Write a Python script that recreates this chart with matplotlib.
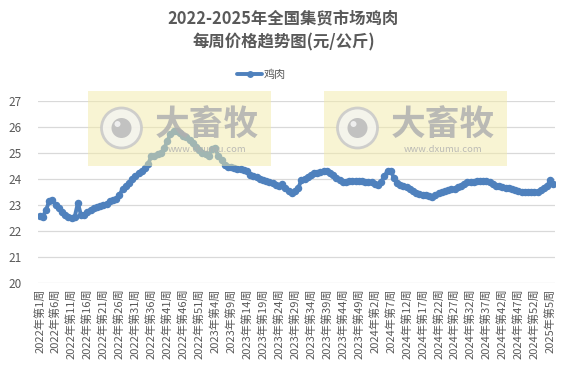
import matplotlib
matplotlib.use("Agg")
import matplotlib.pyplot as plt
from matplotlib.patches import Rectangle, Ellipse

plt.rcParams['font.family'] = ['Noto Sans CJK SC', 'DejaVu Sans']

# 周度价格 (元/公斤), 2022年第1周 起
prices = [
    22.58, 22.55, 22.80, 23.15, 23.18, 23.02, 22.88, 22.72, 22.60, 22.53,
    22.52, 22.55, 23.08, 22.60, 22.62, 22.75, 22.82, 22.88, 22.93, 22.98,
    22.99, 23.05, 23.15, 23.20, 23.22, 23.38, 23.62, 23.72, 23.85, 24.02,
    24.10, 24.22, 24.30, 24.42, 24.58, 24.88, 24.90, 24.95, 25.00, 25.18,
    25.45, 25.74, 25.85, 25.85, 25.78, 25.65, 25.60, 25.52, 25.38, 25.22,
    25.10, 25.00, 24.95, 24.88, 25.15, 25.18, 24.90, 24.72, 24.55, 24.48,
    24.45, 24.42, 24.40, 24.38, 24.35, 24.30, 24.15, 24.12, 24.08, 24.02,
    23.98, 23.92, 23.90, 23.85, 23.78, 23.72, 23.82, 23.65, 23.55, 23.48,
    23.55, 23.65, 23.95, 24.02, 24.08, 24.15, 24.22, 24.25, 24.28, 24.32,
    24.32, 24.25, 24.15, 24.05, 23.95, 23.90, 23.90, 23.92, 23.93, 23.94,
    23.94, 23.92, 23.90, 23.88, 23.88, 23.82, 23.78, 23.90, 24.10, 24.32,
    24.30, 24.05, 23.85, 23.78, 23.75, 23.70, 23.62, 23.55, 23.48, 23.44,
    23.40, 23.38, 23.35, 23.30, 23.38, 23.45, 23.50, 23.55, 23.58, 23.60,
    23.62, 23.68, 23.72, 23.80, 23.88, 23.90, 23.90, 23.92, 23.93, 23.93,
    23.94, 23.90, 23.82, 23.75, 23.72, 23.70, 23.66, 23.64, 23.62, 23.58,
    23.55, 23.52, 23.50, 23.50, 23.50, 23.50, 23.52, 23.58, 23.65, 23.75,
    23.95, 23.82,
]

# 每年的周数
years = [2022, 2023, 2024, 2025]
weeks_in_year = [52, 52, 52, 52]

week_labels = []
for y, n in zip(years, weeks_in_year):
    for w in range(1, n + 1):
        week_labels.append(f"{y}年第{w}周")
week_labels = week_labels[:len(prices)]

grey = '#595959'
blue = '#4F81BD'

fig = plt.figure(figsize=(5.67, 3.69), dpi=100)
ax = fig.add_axes([0.067, 0.233, 0.912, 0.493])

x = list(range(len(prices)))
ax.plot(x, prices, color=blue, lw=2.8, marker='o', ms=4.4,
        solid_capstyle='round', label='鸡肉', zorder=3)

ax.set_ylim(20, 27)
ax.set_xlim(-0.5, len(prices) - 0.5)
ax.set_yticks(range(20, 28))
ax.yaxis.grid(True, color='#D9D9D9', lw=0.9)
ax.set_axisbelow(True)
for s in ax.spines.values():
    s.set_visible(False)
ax.tick_params(axis='y', length=0, labelsize=8.5, labelcolor=grey, pad=12)

tick_pos = x[::5]
ax.set_xticks(tick_pos)
ax.set_xticklabels([week_labels[i] for i in tick_pos], rotation=90,
                   fontsize=8, color=grey)
ax.tick_params(axis='x', length=0, pad=4)

fig.text(0.5, 0.948, '2022-2025年全国集贸市场鸡肉', ha='center', va='center',
         fontsize=11.8, fontweight='bold', color=grey)
fig.text(0.5, 0.885, '每周价格趋势图(元/公斤)', ha='center', va='center',
         fontsize=11.8, fontweight='bold', color=grey)

ax.legend(loc='center', bbox_to_anchor=(0.462, 0.797), bbox_transform=fig.transFigure,
          frameon=False, fontsize=8, labelcolor=grey, handlelength=2.2,
          handletextpad=0.2, markerscale=0.9)

# 水印
W, H = 567.0, 369.0
for dx in [0, 236]:
    fig.patches.append(Rectangle(((88 + dx) / W, 1 - 166 / H), 183 / W, 75 / H,
                                 transform=fig.transFigure, facecolor='#F3EBA8',
                                 alpha=0.5, edgecolor='none', zorder=5))
    cx, cy = (121.5 + dx) / W, 1 - 128 / H
    fig.patches.append(Ellipse((cx, cy), 40 / W, 40 / H, transform=fig.transFigure,
                               facecolor='#F4F4F0', edgecolor='#C8C8C8', lw=2,
                               alpha=0.85, zorder=6))
    fig.patches.append(Ellipse((cx, cy), 20 / W, 20 / H, transform=fig.transFigure,
                               facecolor='#BDBDBD', edgecolor='none', alpha=0.9, zorder=7))
    fig.patches.append(Ellipse((cx - 4 / W, cy + 4 / H), 6 / W, 6 / H,
                               transform=fig.transFigure, facecolor='#EEEEEE',
                               edgecolor='none', zorder=8))
    fig.text((207 + dx) / W, 1 - 124 / H, '大畜牧', ha='center', va='center',
             fontsize=25, fontweight='bold', color='#B0B0B0', alpha=0.85, zorder=9)
    fig.text((207 + dx) / W, 1 - 149 / H, 'www.dxumu.com', ha='center', va='center',
             fontsize=6.8, color='#B0B0B0', alpha=0.85, zorder=9)

fig.savefig('out.png', dpi=100, facecolor='white')
